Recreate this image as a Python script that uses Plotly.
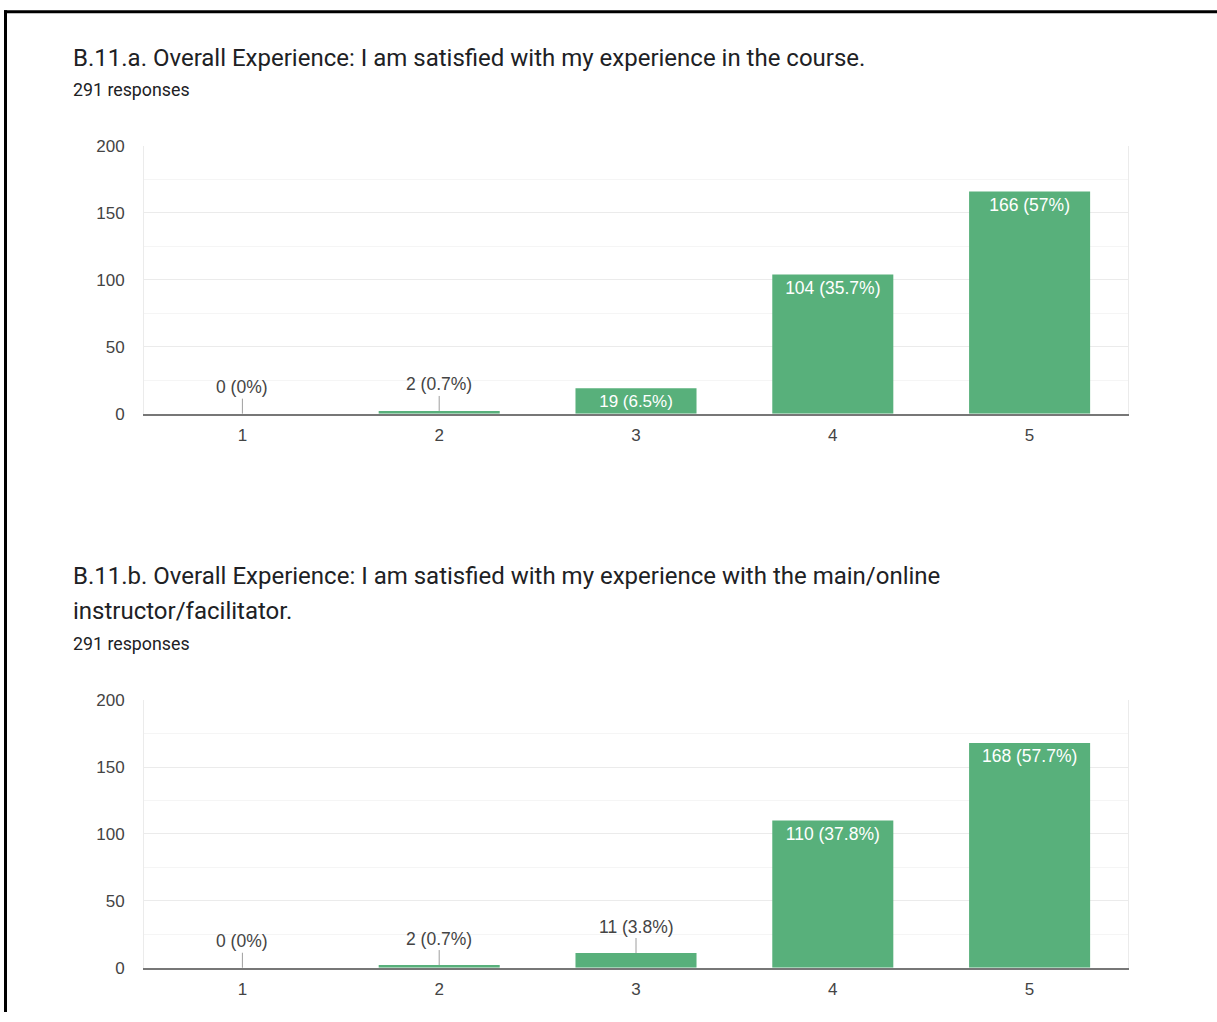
import plotly.graph_objects as go

categories = [1, 2, 3, 4, 5]
counts_a = [0, 2, 19, 104, 166]
counts_b = [0, 2, 11, 110, 168]
total_a = 291
total_b = 291
y_ticks = [0, 50, 100, 150, 200]
title_a = "B.11.a. Overall Experience: I am satisfied with my experience in the course."
title_b_lines = ["B.11.b. Overall Experience: I am satisfied with my experience with the main/online",
                 "instructor/facilitator."]
resp_a = "291 responses"
resp_b = "291 responses"

W, H = 1217, 1022
# the page is shown with a small vertical offset/compression; compensate
OFF, SC = 7.7, 0.983
BAR = "#58b07b"
FONT = "Roboto"
CHART_FONT = "Liberation Sans, Arial, sans-serif"

def px_x(p):
    return p / W

def px_y(p):
    return 1 - ((p - OFF) / SC) / H

def label(v, tot):
    p = round(v / tot * 100, 1)
    return f"{v} ({p:g}%)"

fig = go.Figure()

panels = [
    (counts_a, total_a, "x", "y"),
    (counts_b, total_b, "x2", "y2"),
]

annotations = []
for counts, tot, xa, ya in panels:
    texts = [label(v, tot) if v >= 15 else "" for v in counts]
    fig.add_trace(go.Bar(
        x=categories, y=counts, xaxis=xa, yaxis=ya,
        marker=dict(color=BAR, line=dict(width=0)),
        width=0.615, text=texts, textposition="inside",
        insidetextanchor="end", textangle=0,
        textfont=dict(family=CHART_FONT, size=17.5, color="white"),
        hoverinfo="skip", showlegend=False,
    ))
    for c, v in zip(categories, counts):
        if v < 15:
            annotations.append(dict(
                x=c, y=v, xref=xa, yref=ya, text=label(v, tot),
                showarrow=True, arrowhead=0, arrowwidth=1, arrowcolor="#9e9e9e",
                ax=0, ay=-26.5, font=dict(family=CHART_FONT, size=17.5, color="#444"),
            ))

axis_common_x = dict(range=[0.5, 5.5], tickvals=categories, ticktext=[str(c) for c in categories],
                     showgrid=False, zeroline=False, showline=True, linecolor="#777",
                     linewidth=2, ticks="", ticklabelstandoff=5,
                     tickfont=dict(family=CHART_FONT, size=17, color="#444"), fixedrange=True)
axis_common_y = dict(range=[0, 200], tickvals=y_ticks, showgrid=True, gridcolor="#ebebeb",
                     gridwidth=1, zeroline=False, showline=True, mirror=True,
                     linecolor="#ebebeb", ticks="", ticklabelstandoff=15,
                     minor=dict(dtick=25, showgrid=True, gridcolor="#f5f5f5", gridwidth=1),
                     tickfont=dict(family=CHART_FONT, size=17, color="#444"), fixedrange=True)

fig.update_layout(
    width=W, height=H, margin=dict(l=0, r=0, t=0, b=0),
    paper_bgcolor="white", plot_bgcolor="white",
    xaxis=dict(domain=[px_x(144), px_x(1128)], anchor="y", **axis_common_x),
    yaxis=dict(domain=[px_y(413), px_y(145)], anchor="x", **axis_common_y),
    xaxis2=dict(domain=[px_x(144), px_x(1128)], anchor="y2", **axis_common_x),
    yaxis2=dict(domain=[px_y(968), px_y(700)], anchor="x2", **axis_common_y),
)

def text_ann(t, ypx, size, color="#202124"):
    return dict(text=t, xref="paper", yref="paper", x=px_x(71), y=px_y(ypx),
                xanchor="left", yanchor="middle", showarrow=False,
                font=dict(family=FONT, size=size, color=color))

annotations.append(text_ann(title_a, 57, 24))
annotations.append(text_ann(resp_a, 88, 17.8))
annotations.append(text_ann(title_b_lines[0], 576, 24))
annotations.append(text_ann(title_b_lines[1], 611, 24))
annotations.append(text_ann(resp_b, 643, 17.8))
fig.update_layout(annotations=annotations)

# frame around the screenshot area
fig.add_shape(type="line", xref="paper", yref="paper", x0=px_x(4), x1=1, y0=px_y(10.5), y1=px_y(10.5),
              line=dict(color="black", width=3))
fig.add_shape(type="line", xref="paper", yref="paper", x0=px_x(5.5), x1=px_x(5.5), y0=0, y1=px_y(9),
              line=dict(color="black", width=3))

fig.write_html("out.html")
